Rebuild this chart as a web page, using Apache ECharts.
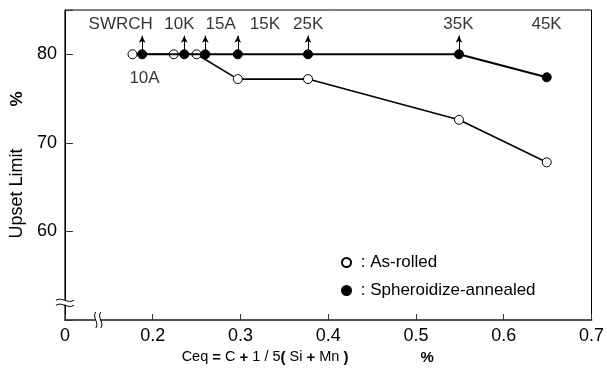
<!DOCTYPE html>
<html>
<head>
<meta charset="utf-8">
<script src="https://cdn.jsdelivr.net/npm/echarts@6/dist/echarts.min.js"></script>
<style>html,body{margin:0;padding:0;background:#fff}#c{width:607px;height:376px}</style>
</head>
<body>
<div id="c"></div>
<script>
// ---- data ----
const asRolledX = [0.177, 0.224, 0.250, 0.297, 0.377, 0.549, 0.649];
const asRolledY = [80, 80, 80, 77.2, 77.2, 72.6, 67.8];
const sphX = [0.188, 0.236, 0.260, 0.297, 0.377, 0.549, 0.649];
const sphY = [80, 80, 80, 80, 80, 80, 77.4];
const arrowX = [0.188, 0.236, 0.260, 0.297, 0.377, 0.549];
const gradeNames = ['SWRCH', '10K', '15A', '15K', '25K', '35K', '45K'];
const gradeLabelX = [0.1635, 0.2304, 0.2774, 0.3279, 0.3772, 0.5484, 0.6488];
const gradeLabelY = 83.4;
const belowNames = ['10A'];
const belowLabelX = [0.1907];
const belowLabelY = 77.3;
const xTicks = ['0', '0.2', '0.3', '0.4', '0.5', '0.6', '0.7'];
const yTicks = ['', '60', '70', '80'];
const seriesNames = ['As-rolled', 'Spheroidize-annealed'];

const zip = (xs, ys) => xs.map((x, i) => [x, Array.isArray(ys) ? ys[i] : ys]);
const FONT = '"Liberation Sans", Arial, sans-serif';

const chart = echarts.init(document.getElementById('c'), null, {renderer: 'canvas'});
const option = {
  animation: false,
  backgroundColor: '#fff',
  textStyle: {fontFamily: FONT, color: '#000'},
  grid: {left: 64, right: 14, top: 10, bottom: 56, show: true, borderColor: '#000', borderWidth: 1},
  xAxis: {
    type: 'value', min: 0.1, max: 0.7, interval: 0.1,
    axisLine: {lineStyle: {color: '#555', width: 2}},
    axisTick: {inside: true, length: 6, lineStyle: {color: '#333'}},
    splitLine: {show: false},
    axisLabel: {fontSize: 18, color: '#000', margin: 7, fontFamily: FONT,
      formatter: v => xTicks[Math.round((v - 0.1) * 10)]},
    name: '{n|Ceq }{b|=}{n| C }{b|+}{n| 1 / 5}{b|(}{n| Si }{b|+}{n| Mn }{b|)}{g|}{b|%}',
    nameLocation: 'middle', nameGap: 24,
    nameTextStyle: {padding: [0, 41, 0, 0], fontFamily: FONT,
      rich: {n: {fontSize: 14.5, color: '#000', fontFamily: FONT},
             b: {fontSize: 15, fontWeight: 'bold', color: '#000', fontFamily: FONT},
             g: {width: 72}}}
  },
  yAxis: {
    type: 'value', min: 50, max: 85, interval: 10,
    axisLine: {show: true, lineStyle: {color: '#000', width: 1}},
    axisTick: {inside: true, length: 8, lineStyle: {color: '#333'}},
    splitLine: {show: false},
    axisLabel: {fontSize: 18, color: '#000', margin: 8, fontFamily: FONT,
      formatter: v => yTicks[Math.round((v - 50) / 10)]},
    name: '{n|Upset Limit}{g|}{b|%}',
    nameLocation: 'middle', nameGap: 38, nameRotate: 90,
    nameTextStyle: {fontFamily: FONT,
      rich: {n: {fontSize: 18, color: '#000', fontFamily: FONT},
             b: {fontSize: 17, fontWeight: 'bold', color: '#000', fontFamily: FONT},
             g: {width: 42}}}
  },
  legend: {
    orient: 'vertical', left: 336, top: 249, itemGap: 11,
    itemWidth: 9, itemHeight: 9,
    textStyle: {fontSize: 17, color: '#000', fontFamily: FONT},
    formatter: n => ' : ' + n,
    data: [{name: seriesNames[0], icon: 'circle'}, {name: seriesNames[1], icon: 'circle'}]
  },
  series: [
    {
      name: seriesNames[0], type: 'line', data: zip(asRolledX, asRolledY),
      symbol: 'circle', symbolSize: 9, z: 3,
      lineStyle: {color: '#000', width: 1.6},
      itemStyle: {color: '#fff', borderColor: '#000', borderWidth: 1}
    },
    {
      name: seriesNames[1], type: 'line', data: zip(sphX, sphY),
      symbol: 'circle', symbolSize: 9, z: 4,
      lineStyle: {color: '#000', width: 2},
      itemStyle: {color: '#000', borderColor: '#000', borderWidth: 1},
      markLine: {
        silent: true, symbol: ['none', 'arrow'], symbolSize: [5, 7],
        label: {show: false},
        lineStyle: {color: '#000', width: 1, type: 'solid'},
        data: arrowX.map(x => [{coord: [x, 80.5]}, {coord: [x, 82.1]}])
      }
    },
    {
      name: 'gradeLabels', type: 'scatter', silent: true, symbolSize: 0,
      data: zip(gradeLabelX, gradeLabelY),
      label: {show: true, position: 'inside', fontSize: 17, color: '#000', fontFamily: FONT,
        formatter: p => gradeNames[p.dataIndex]}
    },
    {
      name: 'belowLabels', type: 'scatter', silent: true, symbolSize: 0,
      data: zip(belowLabelX, belowLabelY),
      label: {show: true, position: 'inside', fontSize: 17, color: '#000', fontFamily: FONT,
        formatter: p => belowNames[p.dataIndex]}
    }
  ]
};
chart.setOption(option);

// axis break marks
const yb = chart.convertToPixel({gridIndex: 0}, [0.1, 52.0]);
const xb = chart.convertToPixel({gridIndex: 0}, [0.1374, 50]);
const curve = (x1, y1, cx1, cy1, cx2, cy2, x2, y2) => ({
  type: 'bezierCurve', z: 100,
  shape: {x1, y1, x2, y2, cpx1: cx1, cpy1: cy1, cpx2: cx2, cpy2: cy2},
  style: {stroke: '#000', lineWidth: 1, fill: null}
});
const g = [];
// y-axis break (horizontal wavy lines)
g.push({type: 'rect', z: 99, shape: {x: yb[0] - 2, y: yb[1] - 2.5, width: 4, height: 5}, style: {fill: '#fff'}});
g.push(curve(yb[0] - 9, yb[1] - 2, yb[0] - 3, yb[1] - 6, yb[0] + 3, yb[1] + 2, yb[0] + 9, yb[1] - 2));
g.push(curve(yb[0] - 9, yb[1] + 3, yb[0] - 3, yb[1] - 1, yb[0] + 3, yb[1] + 7, yb[0] + 9, yb[1] + 3));
// x-axis break (vertical wavy lines)
g.push({type: 'rect', z: 99, shape: {x: xb[0] - 2.5, y: xb[1] - 2, width: 5, height: 4}, style: {fill: '#fff'}});
g.push(curve(xb[0] - 2, xb[1] - 8, xb[0] - 6, xb[1] - 3, xb[0] + 2, xb[1] + 3, xb[0] - 2, xb[1] + 8));
g.push(curve(xb[0] + 3, xb[1] - 8, xb[0] - 1, xb[1] - 3, xb[0] + 7, xb[1] + 3, xb[0] + 3, xb[1] + 8));
chart.setOption({graphic: g});
</script>
</body>
</html>
